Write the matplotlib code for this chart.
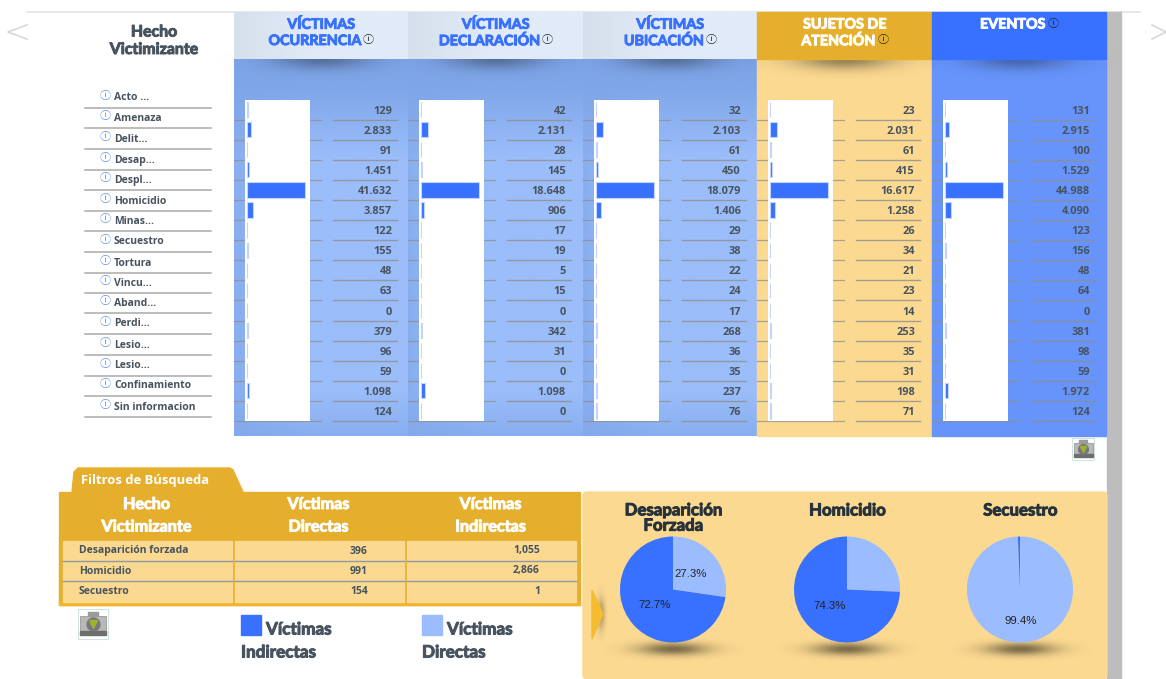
import numpy as np
import matplotlib
matplotlib.use('Agg')
import matplotlib.pyplot as plt
import matplotlib.patheffects as pe
from matplotlib.colors import to_rgb
from matplotlib.patches import Rectangle, Polygon, FancyBboxPatch

# row labels of the top table
hechos = ['Acto ...', 'Amenaza', 'Delit...', 'Desap...', 'Despl...', 'Homicidio', 'Minas...',
          'Secuestro', 'Tortura', 'Vincu...', 'Aband...', 'Perdi...', 'Lesio...', 'Lesio...',
          'Confinamiento', 'Sin informacion']

# column values, in the order of the rows
ocurrencia = [129, 2833, 91, 1451, 41632, 3857, 122, 155, 48, 63, 0, 379, 96, 59, 1098, 124]
declaracion = [42, 2131, 28, 145, 18648, 906, 17, 19, 5, 15, 0, 342, 31, 0, 1098, 0]
ubicacion = [32, 2103, 61, 450, 18079, 1406, 29, 38, 22, 24, 17, 268, 36, 35, 237, 76]
sujetos = [23, 2031, 61, 415, 16617, 1258, 26, 34, 21, 23, 14, 253, 35, 31, 198, 71]
eventos = [131, 2915, 100, 1529, 44988, 4090, 123, 156, 48, 64, 0, 381, 98, 59, 1972, 124]

# bottom table and pies
filtro_hechos = ['Desaparición forzada', 'Homicidio', 'Secuestro']
pie_titulos = ['Desaparición\nForzada', 'Homicidio', 'Secuestro']
directas = [396, 991, 154]
indirectas = [1055, 2866, 1]

W, H = 1166, 679
BLUE = '#3871ff'
LIGHT = '#9bbcff'
GOLD = '#e5af2d'
SAND = '#fbd991'
DARK = '#47535f'
BOLD = {'family': ['Open Sans', 'DejaVu Sans'], 'weight': 'bold'}
INFO = ['Noto Sans CJK KR', 'DejaVu Sans']


def fmt(v):
    return f'{v:,}'.replace(',', '.')


def inset(x0, y0, x1, y1, **kw):
    # axes placed with pixel coordinates, y measured from the top
    return fig.add_axes([x0 / W, 1 - y1 / H, (x1 - x0) / W, (y1 - y0) / H], **kw)


def heavy(x, y, s, size, color, ha='center', zorder=5, **kw):
    # the site's black weight, thickened with a thin outline
    t = ax.text(x, y, s, ha=ha, va='center', color=color, fontsize=size, zorder=zorder,
                family=['Lato', 'DejaVu Sans'], weight='bold', **kw)
    t.set_path_effects([pe.withStroke(linewidth=0.7, foreground=color)])
    return t


def shadow(cx, cy, rx, ry, alpha=0.45, zorder=2):
    # soft elliptical shadow under headers and pies
    xs = np.linspace(-1.6, 1.6, 80)
    gx, gy = np.meshgrid(xs, xs)
    img = np.zeros((80, 80, 4))
    img[..., 3] = alpha * np.exp(-(gx ** 2 + gy ** 2) * 1.6)
    ax.imshow(img, extent=(cx - 1.6 * rx, cx + 1.6 * rx, cy + 1.6 * ry, cy - 1.6 * ry),
              aspect='auto', zorder=zorder, interpolation='bilinear')


def gradient(x0, y0, x1, y1, c_edge, c_mid, vertical=True, zorder=1):
    # darker at the left edge of the column, and at the top when vertical
    a, b = np.array(to_rgb(c_edge)), np.array(to_rgb(c_mid))
    gx, gy = np.meshgrid(np.linspace(0, 1, 120), np.linspace(0, 1, 120))
    t = np.clip(gx / 0.45, 0, 1)
    if vertical:
        t = np.clip(t * 0.6 + 0.4, 0, 1) * np.clip((gy - 0.06) / 0.2, 0, 1) * np.clip((1.0 - gy) / 0.12 * 0.6 + 0.4, 0, 1)
    img = a + (b - a) * t[..., None]
    ax.imshow(img, extent=(x0, x1, y1, y0), aspect='auto', zorder=zorder, interpolation='bilinear')


fig = plt.figure(figsize=(W / 100, H / 100), dpi=100, facecolor='white')
ax = fig.add_axes([0, 0, 1, 1])

# page furniture
ax.plot([27, 1140], [12, 12], color='#e4e4e4', lw=1.2, zorder=1)
ax.add_patch(Rectangle((1107, 12), 14, 667, color='#bdbdbd', zorder=1))
ax.plot([27, 8, 27], [25, 32, 39], color='#d8d8d8', lw=1.2)
ax.plot([1152, 1166, 1152], [25, 32, 39], color='#d8d8d8', lw=1.2)

# header and body of the five columns
col_x = [234, 408, 583, 757, 932, 1106]
for i in range(3):
    gradient(col_x[i], 59, col_x[i + 1], 436, '#7ea5e8', '#9bbdfa')
ax.add_patch(Rectangle((757, 59), 175, 377, color=SAND, zorder=1))
ax.add_patch(Rectangle((932, 59), 174, 377, color='#6694fa', zorder=1))

for i in range(5):
    cx = (col_x[i] + col_x[i + 1]) / 2
    shadow(cx, 59, 62, 13, alpha=0.32 if i != 3 else 0.42)

for i in range(3):
    gradient(col_x[i], 12, col_x[i + 1], 59, '#d5e0ec', '#e1ebf8', vertical=False, zorder=2.5)
ax.add_patch(Rectangle((757, 12), 175, 47, color=GOLD, zorder=2.5))
ax.add_patch(Rectangle((932, 12), 174, 47, color=BLUE, zorder=2.5))

ax.set_xlim(0, W)
ax.set_ylim(H, 0)
ax.axis('off')

# header texts, with the info sign right after the last word
renderer = fig.canvas.get_renderer()
titulos = [('VÍCTIMAS', 'OCURRENCIA'), ('VÍCTIMAS', 'DECLARACIÓN'), ('VÍCTIMAS', 'UBICACIÓN'),
           ('SUJETOS DE', 'ATENCIÓN'), ('EVENTOS', '')]
for i, (a, b) in enumerate(titulos):
    cx = (col_x[i] + col_x[i + 1]) / 2
    color = 'white' if i >= 3 else BLUE
    if b:
        heavy(cx, 24.5, a, 10.3, color)
        last = heavy(cx - 6.5, 41, b, 10.3, color)
        y = 41
    else:
        last = heavy(cx - 6.5, 24.5, a, 10.3, color)
        y = 24.5
    right = last.get_window_extent(renderer).x1
    ax.text(right + 8, y - 0.5, 'ⓘ', ha='center', va='center', color='#222222', fontsize=8, family=INFO, zorder=6)

heavy(154, 32.5, 'Hecho', 11.4, DARK)
heavy(154, 50, 'Victimizante', 11.4, DARK)

# left row labels
label_y = [97, 117.5, 138, 159, 179, 200, 220, 241, 262, 282, 302, 323, 344, 365, 385, 406]
for y, name in zip(label_y, hechos):
    ax.text(105, y - 1, 'ⓘ', ha='center', va='center', color='#5b8ef5', fontsize=8, family=INFO)
    ax.text(114, y + 1, name, ha='left', va='center', color=DARK, fontsize=7.5, **BOLD)
    ax.plot([85, 211], [y + 10.5, y + 10.5], color='#a9a9a9', lw=1.1, zorder=3)

# bars and values of every column
columnas = [ocurrencia, declaracion, ubicacion, sujetos, eventos]
y_pos = np.arange(len(hechos))
row_y = [110, 130, 150, 170, 190, 210, 230, 250, 270, 290, 311, 331, 351, 371, 391, 411]
for i, vals in enumerate(columnas):
    x0 = col_x[i]
    bar_ax = inset(x0 + 11, 99.5, x0 + 76, 421, zorder=3)
    bar_ax.barh(y_pos, vals, height=0.76, color=BLUE, edgecolor='#c3d4ff', linewidth=0.8)
    bar_ax.set_xlim(-max(vals) * 0.04, max(vals) * 1.08)
    bar_ax.set_ylim(len(hechos) - 0.5, -0.5)
    bar_ax.set_xticks([])
    bar_ax.set_yticks([])
    for s in bar_ax.spines.values():
        s.set_visible(False)
    for y, v in zip(row_y, vals):
        ax.text(x0 + 158, y + 1.2, fmt(v), ha='right', va='center', color=DARK, fontsize=7.9, zorder=6, **BOLD)
        ax.plot([x0 + 99, x0 + 163], [y + 9.5, y + 9.5], color='#8f8f8f', lw=1.0, alpha=0.8, zorder=5)
    # row rules cross the white bar box, so they go on the bar axes' level
    for y in row_y:
        ln = ax.plot([x0, x0 + 87], [y + 9.5, y + 9.5], color='#8f8f8f', lw=0.9, alpha=0.75, zorder=5)


def camara(cx, cy, s=1.0):
    # little download icon next to the tables
    ax.add_patch(Rectangle((cx - 11 * s, cy - 11 * s), 22 * s, 22 * s, facecolor='white', edgecolor='#cfe3e3', lw=0.8, zorder=4))
    ax.add_patch(Rectangle((cx - 9.5 * s, cy - 6 * s), 19 * s, 14 * s, facecolor='#b8b8b8', edgecolor='#8c8c8c', lw=0.5, zorder=5))
    ax.add_patch(Rectangle((cx - 9.5 * s, cy + 5 * s), 19 * s, 3 * s, color='#6d6d6d', zorder=6))
    ax.add_patch(Rectangle((cx - 4 * s, cy - 9 * s), 8 * s, 3 * s, color='#9a9a9a', zorder=5))
    ax.plot([cx], [cy], 'o', ms=7 * s, color='#77767a', zorder=6)
    ax.plot([cx], [cy], 'v', ms=4 * s, color='#9ab52c', zorder=7)


camara(1083, 449)
camara(93, 624, 1.32)

# search filter tab and table
ax.add_patch(Polygon([(72, 492), (74, 472), (78, 468), (230, 468), (233, 470), (243, 492)], color=GOLD, zorder=2))
ax.text(81, 480.5, 'Filtros de Búsqueda', ha='left', va='center', color='white', fontsize=9.4, zorder=5, **BOLD)
ax.add_patch(Rectangle((59, 492), 521, 113, color=GOLD, zorder=2))
ax.add_patch(Rectangle((59, 601), 521, 4, color='#f0b52c', zorder=3))
tab_x = [(63, 232), (235, 404), (407, 576)]
tab_head = [('Hecho', 'Victimizante'), ('Víctimas', 'Directas'), ('Víctimas', 'Indirectas')]
for (xa, xb), (a, b) in zip(tab_x, tab_head):
    cx = (xa + xb) / 2
    heavy(cx - 1, 505, a, 11.6, 'white')
    heavy(cx - 1, 527.5, b, 11.6, 'white')
row_top = [541, 561, 582]
for k, top in enumerate(row_top):
    for xa, xb in tab_x:
        ax.add_patch(Rectangle((xa, top), xb - xa, 19.5, color=SAND, zorder=3))
        if k < 2:
            ax.plot([xa, xb], [top + 19.8, top + 19.8], color='#8f9aa5', lw=1, zorder=4)
    ax.text(79, top + 10, filtro_hechos[k], ha='left', va='center', color=DARK, fontsize=7.5, zorder=5, **BOLD)
    ax.text(368, top + 10, f'{directas[k]:,}', ha='right', va='center', color=DARK, fontsize=7.5, zorder=5, **BOLD)
    ax.text(540, top + 10, f'{indirectas[k]:,}', ha='right', va='center', color=DARK, fontsize=7.5, zorder=5, **BOLD)

# legend under the table
ax.add_patch(Rectangle((241, 615), 19.5, 19.5, color=BLUE, zorder=3))
heavy(266, 629.5, 'Víctimas', 12.3, DARK, ha='left')
heavy(241, 652.5, 'Indirectas', 12.3, DARK, ha='left')
ax.add_patch(Rectangle((422, 615), 19.5, 19.5, color=LIGHT, zorder=3))
heavy(447, 629.5, 'Víctimas', 12.3, DARK, ha='left')
heavy(422, 652.5, 'Directas', 12.3, DARK, ha='left')

# pie panel
ax.add_patch(FancyBboxPatch((586, 495), 518, 181, boxstyle='round,pad=3,rounding_size=4', color=SAND, zorder=1))
shadow(601, 614, 5, 20, alpha=0.3, zorder=2)
ax.add_patch(Polygon([(592, 590), (603, 614), (592, 639)], color='#f5bc30', zorder=3))

pie_cx = [673, 847, 1020]
pct_dist = [0.45, 0.45, 0.6]


def etiqueta(p):
    # the chart leaves out labels of the small slices
    return f'{p:.1f}%' if p > 26 else ''


for k, cx in enumerate(pie_cx):
    shadow(cx, 649, 44, 8, alpha=0.5)
    heavy(cx, 518 if k == 0 else 510.5, pie_titulos[k], 12.1, '#27323c', linespacing=0.95)
    pax = inset(cx - 53, 536.5, cx + 53, 642.5, zorder=4)
    pax.pie([directas[k], indirectas[k]], colors=[LIGHT, BLUE], startangle=90, counterclock=False, radius=1.0,
            autopct=etiqueta, pctdistance=pct_dist[k],
            textprops={'fontsize': 8.2, 'color': '#222222', 'family': 'Liberation Sans'})
    pax.set_xlim(-1, 1)
    pax.set_ylim(-1, 1)

fig.savefig('out.png', dpi=100)
